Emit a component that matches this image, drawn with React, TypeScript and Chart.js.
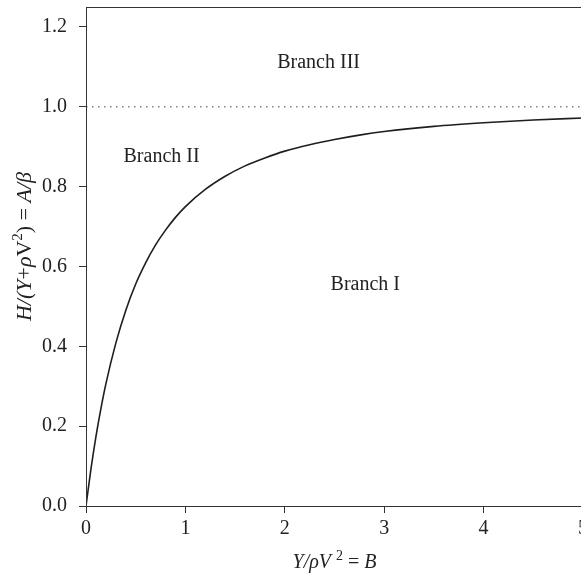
import React, { useEffect, useRef } from "react";
import { Chart, registerables } from "chart.js";

Chart.register(...registerables);

// B = Y/ρV² along the horizontal axis
const bValues = [
  0, 0.05, 0.1, 0.15, 0.2, 0.3, 0.4, 0.5, 0.6, 0.7, 0.8, 0.9, 1.0, 1.2, 1.4,
  1.6, 1.8, 2.0, 2.25, 2.5, 2.75, 3.0, 3.5, 4.0, 4.5, 5.0,
];
// A/β = H/(Y+ρV²) on the boundary curve
const ratioValues = [
  0, 0.093, 0.174, 0.244, 0.306, 0.408, 0.49, 0.556, 0.609, 0.654, 0.691,
  0.723, 0.75, 0.793, 0.826, 0.852, 0.872, 0.889, 0.905, 0.918, 0.929, 0.938,
  0.951, 0.96, 0.967, 0.972,
];
// asymptote level drawn dotted
const asymptoteB = [0, 5];
const asymptoteRatio = [1.0, 1.0];

const xTickValues = [0, 1, 2, 3, 4, 5];
const yTickValues = [0, 0.2, 0.4, 0.6, 0.8, 1.0, 1.2];

// region labels and where they sit in (B, A/β)
const branchNames = ["Branch I", "Branch II", "Branch III"];
const branchB = [2.81, 0.76, 2.34];
const branchRatio = [0.554, 0.875, 1.11];

const FONT_FAMILY = '"Liberation Serif", "DejaVu Serif", serif';
const TEXT = "#222222";
const AXIS = "#333333";

type Part = { t: string; italic?: boolean; sup?: boolean };

const xTitleParts: Part[] = [
  { t: "Y/ρV", italic: true },
  { t: " " },
  { t: "2", sup: true },
  { t: " = " },
  { t: "B", italic: true },
];
const yTitleParts: Part[] = [
  { t: "H/(Y", italic: true },
  { t: "+" },
  { t: "ρ", italic: true },
  { t: "V" },
  { t: "2", sup: true },
  { t: ") = " },
  { t: "A/β", italic: true },
];

function partFont(p: Part, size: number) {
  const s = p.sup ? Math.round(size * 0.7) : size;
  return `${p.italic ? "italic " : ""}${s}px ${FONT_FAMILY}`;
}

function drawRich(
  ctx: CanvasRenderingContext2D,
  parts: Part[],
  size: number,
  cx: number,
  baseline: number,
  rotation: number
) {
  ctx.save();
  ctx.translate(cx, baseline);
  ctx.rotate(rotation);
  let total = 0;
  const widths = parts.map((p) => {
    ctx.font = partFont(p, size);
    const w = ctx.measureText(p.t).width;
    total += w;
    return w;
  });
  let x = -total / 2;
  ctx.textAlign = "left";
  ctx.textBaseline = "alphabetic";
  ctx.fillStyle = TEXT;
  parts.forEach((p, i) => {
    ctx.font = partFont(p, size);
    ctx.fillText(p.t, x, p.sup ? -size * 0.4 : 0);
    x += widths[i];
  });
  ctx.restore();
}

const annotationsPlugin = {
  id: "frameAndLabels",
  afterDatasetsDraw(chart: any) {
    const { ctx, chartArea: a, scales } = chart;
    ctx.save();
    ctx.strokeStyle = AXIS;
    ctx.lineWidth = 1;
    ctx.strokeRect(
      Math.round(a.left) + 0.5,
      Math.round(a.top) + 0.5,
      a.right - a.left,
      a.bottom - a.top
    );

    ctx.font = `20px ${FONT_FAMILY}`;
    ctx.fillStyle = TEXT;
    ctx.textAlign = "center";
    ctx.textBaseline = "middle";
    branchNames.forEach((name, i) => {
      ctx.fillText(
        name,
        scales.x.getPixelForValue(branchB[i]),
        scales.y.getPixelForValue(branchRatio[i])
      );
    });
    ctx.restore();

    drawRich(ctx, xTitleParts, 20, (a.left + a.right) / 2, 568, 0);
    drawRich(ctx, yTitleParts, 22, 31, (a.top + a.bottom) / 2 - 10, -Math.PI / 2);
  },
};

export default function App() {
  const canvasRef = useRef<HTMLCanvasElement | null>(null);

  useEffect(() => {
    const canvas = canvasRef.current;
    if (!canvas) return;

    const curve = bValues.map((b, i) => ({ x: b, y: ratioValues[i] }));
    const level = asymptoteB.map((b, i) => ({ x: b, y: asymptoteRatio[i] }));

    const chart = new Chart(canvas, {
      type: "line",
      data: {
        datasets: [
          {
            data: level,
            borderColor: "#808080",
            borderWidth: 1.5,
            borderDash: [1.5, 4.5],
            pointRadius: 0,
            fill: false,
          },
          {
            data: curve,
            borderColor: "#1e1e1e",
            borderWidth: 1.6,
            pointRadius: 0,
            cubicInterpolationMode: "monotone",
            fill: false,
          },
        ],
      },
      options: {
        responsive: false,
        animation: false,
        devicePixelRatio: 1,
        layout: { padding: { left: 0, top: 7, right: 17, bottom: 0 } },
        plugins: {
          legend: { display: false },
          tooltip: { enabled: false },
        },
        scales: {
          x: {
            type: "linear",
            min: 0,
            max: 5,
            border: { display: false },
            grid: {
              drawOnChartArea: false,
              drawTicks: true,
              tickLength: 7,
              tickColor: AXIS,
            },
            afterBuildTicks: (scale: any) => {
              scale.ticks = xTickValues.map((v) => ({ value: v }));
            },
            ticks: {
              padding: 4,
              color: TEXT,
              font: { family: FONT_FAMILY, size: 20 },
              maxRotation: 0,
              callback: (v: any) => String(v),
            },
            afterFit: (scale: any) => {
              scale.height = 68;
              scale.paddingLeft = 0;
              scale.paddingRight = 0;
            },
          },
          y: {
            type: "linear",
            min: 0,
            max: 1.25,
            border: { display: false },
            grid: {
              drawOnChartArea: false,
              drawTicks: true,
              tickLength: 7,
              tickColor: AXIS,
            },
            afterBuildTicks: (scale: any) => {
              scale.ticks = yTickValues.map((v) => ({ value: v }));
            },
            ticks: {
              padding: 12,
              color: TEXT,
              font: { family: FONT_FAMILY, size: 20 },
              callback: (v: any) => Number(v).toFixed(1),
            },
            afterFit: (scale: any) => {
              scale.width = 86;
              scale.paddingTop = 0;
              scale.paddingBottom = 0;
            },
          },
        },
      },
      plugins: [annotationsPlugin],
    });

    return () => chart.destroy();
  }, []);

  return (
    <div
      style={{
        position: "fixed",
        left: 0,
        top: 0,
        width: 581,
        height: 574,
        overflow: "hidden",
        background: "#ffffff",
      }}
    >
      <canvas
        ref={canvasRef}
        width={600}
        height={574}
        style={{ display: "block", width: 600, height: 574 }}
      />
    </div>
  );
}
